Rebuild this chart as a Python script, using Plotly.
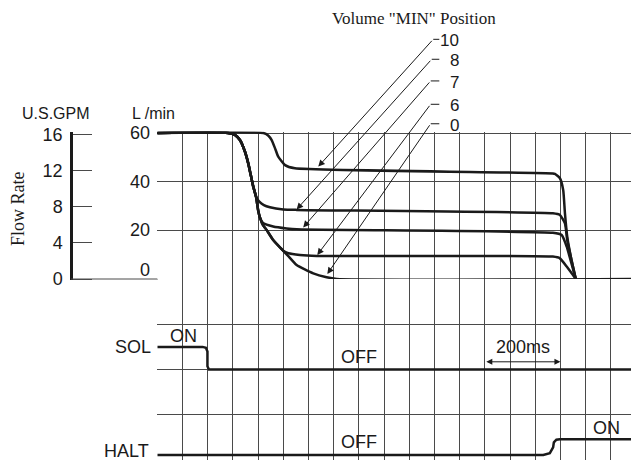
import plotly.graph_objects as go

# ---- data (time in grid divisions, 3 div = 200 ms; flow in L/min) ----
c10_t = [0, 4.21, 4.40, 4.54, 4.67, 4.80, 5.07, 5.46, 15.70, 15.78, 15.98, 16.11, 16.18, 16.27, 16.44, 16.61]
c10_q = [60, 60, 59.0, 57.1, 53.8, 50.3, 46.8, 45.5, 43.4, 43.2, 41.4, 36.6, 27.0, 17.4, 7.8, 0]

drop_t = [0, 2.81, 3.08, 3.28, 3.48, 3.61, 3.71, 3.81, 3.92]
drop_q = [60, 60, 59.2, 57.1, 52.3, 47.5, 42.7, 37.9, 33.8]

c8_t = drop_t + [4.05, 4.23, 4.47, 5.0, 5.53, 15.70, 15.98, 16.18, 16.27, 16.44, 16.61]
c8_q = drop_q + [31.8, 30.4, 29.5, 28.6, 28.4, 27.0, 26.3, 22.9, 16.0, 7.8, 0]

c7_t = drop_t + [4.0, 4.08, 4.21, 4.60, 5.13, 5.53, 15.70, 16.05, 16.25, 16.40, 16.61]
c7_q = drop_q + [28.4, 25.1, 22.9, 21.6, 20.8, 20.4, 19.0, 18.1, 13.3, 7.8, 0]

low_t = drop_t + [4.0, 4.08, 4.19, 4.34, 4.60, 5.0]
low_q = drop_q + [28.4, 25.1, 22.2, 20.1, 16.0, 11.6]

c6_t = low_t + [5.20, 5.66, 6.33, 15.70, 15.98, 16.25, 16.61]
c6_q = low_q + [10.6, 9.9, 9.5, 9.2, 8.5, 5.1, 0]

c0_t = low_t + [5.19, 5.53, 6.19, 6.72, 7.12, 19]
c0_q = low_q + [9.5, 5.75, 2.3, 0.7, 0, 0]

# signal traces (row units below the flow chart)
sol_t = [0, 1.80, 1.93, 1.99, 1.99, 2.05, 19]
sol_v = [-1.5, -1.5, -1.52, -1.6, -1.93, -2.0, -2.0]
halt_t = [0, 15.32, 15.58, 15.71, 15.74, 15.84, 15.98, 19]
halt_v = [-3.89, -3.89, -3.85, -3.72, -3.61, -3.55, -3.54, -3.54]

# leader arrows: label, head (t, q), tail (t, q)
pos_labels = ["10", "8", "7", "6", "0"]
head_t = [6.39, 5.53, 5.79, 6.35, 6.75]
head_q = [46.2, 28.6, 21.2, 9.9, 2.1]
tail_t = [10.95, 10.89, 10.85, 10.85, 10.85]
tail_q = [98.5, 90.3, 81.4, 71.8, 63.8]

lmin_ticks = [60, 40, 20, 0]
gpm_ticks = [0, 4, 8, 12, 16]

# ---- pixel helpers for layout (page body adds an 8px offset) ----
OFF = 8
W, H, T = 631, 452, 120
PW, PH = 628, H - T
UNIT = 146 / 60.0


def pxx(x):
    return (x - OFF) / PW


def pxy(y):
    return (H - (y - OFF)) / PH


ARIAL = "Liberation Sans, Arial, sans-serif"
TIMES = "Liberation Serif, Times New Roman, serif"
INK = "#1a1a1a"
GRID = "#4a4a4a"

fig = go.Figure()

for t, q in [(c10_t, c10_q), (c8_t, c8_q), (c7_t, c7_q), (c6_t, c6_q), (c0_t, c0_q)]:
    fig.add_trace(go.Scatter(x=t, y=q, mode="lines",
                             line=dict(color=INK, width=2.5, shape="spline", smoothing=0.5),
                             xaxis="x", yaxis="y", showlegend=False, hoverinfo="skip"))

for t, v in [(sol_t, sol_v), (halt_t, halt_v)]:
    fig.add_trace(go.Scatter(x=t, y=v, mode="lines",
                             line=dict(color=INK, width=2.5),
                             xaxis="x2", yaxis="y2", showlegend=False, hoverinfo="skip"))

# dummy trace so the GPM axis gets drawn
fig.add_trace(go.Scatter(x=[None], y=[None], xaxis="x", yaxis="y3", showlegend=False))

annotations = []
shapes = []

# leader arrows + labels
for lab, hx, hy, tx, ty in zip(pos_labels, head_t, head_q, tail_t, tail_q):
    annotations.append(dict(x=hx, y=hy, xref="x", yref="y", ax=tx, ay=ty, axref="x", ayref="y",
                            text="", showarrow=True, arrowhead=2, arrowsize=1.3, arrowwidth=1,
                            arrowcolor=INK, standoff=0))
    ypx = 279 - ty * UNIT
    shapes.append(dict(type="line", xref="paper", yref="paper",
                       x0=pxx(157.3 + tx * 25.2), x1=pxx(439.3), y0=pxy(ypx), y1=pxy(ypx),
                       line=dict(color=INK, width=1)))
    annotations.append(dict(x=pxx(461), y=pxy(ypx + 1.5), xref="paper", yref="paper",
                            text=lab, showarrow=False, xanchor="right", yanchor="middle",
                            font=dict(family=ARIAL, size=17, color=INK)))

# 200ms dimension arrow
annotations.append(dict(x=16.0, y=-1.83, xref="x2", yref="y2", ax=13.0, ay=-1.83,
                        axref="x2", ayref="y2", text="", showarrow=True, arrowhead=2,
                        arrowside="end+start", arrowsize=1.2, arrowwidth=1, arrowcolor=INK,
                        standoff=0, startstandoff=0))

# L/min tick labels
for v in lmin_ticks:
    annotations.append(dict(x=pxx(152), y=v, xref="paper", yref="y", text=str(v),
                            showarrow=False, xanchor="right", yanchor="middle",
                            yshift=9 if v == 0 else 0,
                            font=dict(family=ARIAL, size=18, color=INK)))

# zero line from GPM axis to the chart
shapes.append(dict(type="line", xref="paper", yref="y", x0=pxx(71), x1=pxx(157.3), y0=0, y1=0,
                   line=dict(color=GRID, width=1)))

texts = [
    ("U.S.GPM", 56, 114, "center", 16, ARIAL, 0),
    ("L /min", 153, 114, "center", 16, ARIAL, 0),
    ("Flow Rate", 18, 209, "center", 18, TIMES, -90),
    ('Volume "MIN" Position', 414, 18, "center", 17, TIMES, 0),
    ("SOL", 153, 347, "right", 18, ARIAL, 0),
    ("ON", 183, 336, "center", 18, ARIAL, 0),
    ("OFF", 359, 357, "center", 18, ARIAL, 0),
    ("200ms", 523, 347, "center", 18, ARIAL, 0),
    ("OFF", 359, 442, "center", 18, ARIAL, 0),
    ("ON", 606, 428, "center", 18, ARIAL, 0),
    ("HALT", 151, 451, "right", 18, ARIAL, 0),
]
for txt, x, y, anc, size, fam, ang in texts:
    annotations.append(dict(x=pxx(x), y=pxy(y), xref="paper", yref="paper", text=txt,
                            showarrow=False, xanchor=anc, yanchor="middle", textangle=ang,
                            font=dict(family=fam, size=size, color=INK)))

pad = 0.6
xdom = [pxx(157.3), 1]
fig.update_layout(
    width=W, height=H,
    margin=dict(l=0, r=W - PW, t=T, b=0, autoexpand=False),
    paper_bgcolor="white", plot_bgcolor="white",
    xaxis=dict(domain=xdom, range=[0, 19], tick0=0, dtick=1, showgrid=True, gridcolor=GRID,
               gridwidth=1, showticklabels=False, ticks="", zeroline=False, anchor="y",
               automargin=False),
    xaxis2=dict(domain=xdom, range=[0, 19], tick0=0, dtick=1, showgrid=True, gridcolor=GRID,
                gridwidth=1, showticklabels=False, ticks="", zeroline=False, anchor="y2",
                matches="x", automargin=False),
    yaxis=dict(domain=[pxy(279 + pad * UNIT), pxy(133 - pad * UNIT)], range=[-pad, 60 + pad],
               tickvals=[0, 20, 40, 60], showgrid=True, gridcolor=GRID, gridwidth=1,
               showticklabels=False, ticks="", zeroline=False, anchor="x", automargin=False),
    yaxis2=dict(domain=[0, pxy(279)], range=[-4, 0], tickvals=[-3, -2, -1, 0], showgrid=True,
                gridcolor=GRID, gridwidth=1, showticklabels=False, ticks="", zeroline=False,
                anchor="x2", automargin=False),
    yaxis3=dict(overlaying="y", anchor="free", position=pxx(71), side="left",
                range=[-pad * 16.15 / 60, 16.15 + pad * 16.15 / 60], tickvals=gpm_ticks,
                ticks="inside", ticklen=19, tickcolor=GRID, tickwidth=1,
                showline=True, linecolor=INK, linewidth=2.5, showgrid=False, zeroline=False,
                tickfont=dict(family=ARIAL, size=18, color=INK), ticklabelstandoff=4,
                automargin=False),
    annotations=annotations,
    shapes=shapes,
)

fig.write_html("out.html")
